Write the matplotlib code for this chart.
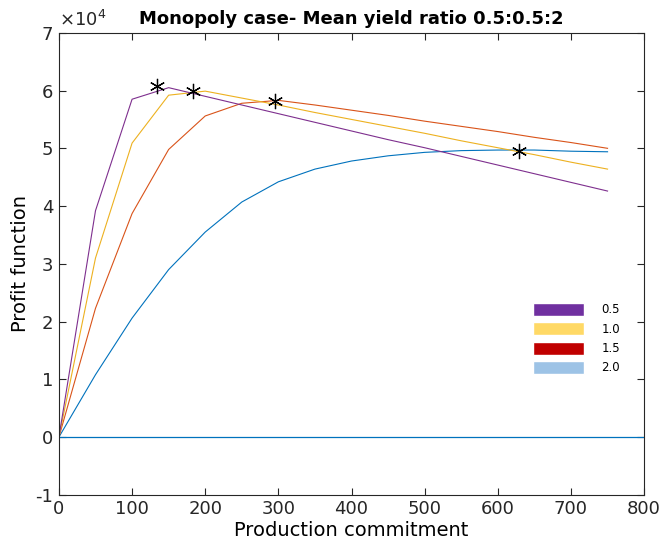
import matplotlib
matplotlib.use("Agg")
import matplotlib.pyplot as plt
from matplotlib.patches import Patch

# production commitment grid
x = [0, 50, 100, 150, 200, 250, 300, 350, 400, 450, 500, 550, 600, 650, 700, 750]

# profit values (x 1e4)
profit_05 = [0, 3.92, 5.85, 6.05, 5.90, 5.75, 5.60, 5.45, 5.30, 5.15, 5.01, 4.86, 4.71, 4.56, 4.41, 4.26]
profit_10 = [0, 3.10, 5.09, 5.92, 5.99, 5.87, 5.75, 5.62, 5.50, 5.38, 5.26, 5.13, 5.01, 4.89, 4.76, 4.64]
profit_15 = [0, 2.23, 3.87, 4.98, 5.56, 5.78, 5.83, 5.75, 5.66, 5.57, 5.47, 5.38, 5.29, 5.19, 5.10, 5.00]
profit_20 = [0, 1.08, 2.06, 2.90, 3.55, 4.07, 4.42, 4.64, 4.78, 4.87, 4.93, 4.96, 4.97, 4.97, 4.95, 4.94]

# optimum markers
star_x = [134, 183, 296, 629]
star_y = [6.08, 5.99, 5.82, 4.95]

legend_labels = ["0.5", "1.0", "1.5", "2.0"]
legend_colors = ["#7030A0", "#FFD966", "#C00000", "#9DC3E6"]

fig = plt.figure(figsize=(6.62, 5.56), dpi=100)
ax = fig.add_axes([0.089, 0.110, 0.884, 0.831])

scale = 1e4
ax.plot(x, [v * scale for v in profit_20], color="#0072BD", lw=0.8)
ax.plot(x, [v * scale for v in profit_15], color="#D95319", lw=0.8)
ax.plot(x, [v * scale for v in profit_10], color="#EDB120", lw=0.8)
ax.plot(x, [v * scale for v in profit_05], color="#7E2F8E", lw=0.8)
ax.axhline(0, color="#0072BD", lw=0.9)
# matlab style '*' marker (plus + cross)
ax.plot(star_x, [v * scale for v in star_y], ls="none", marker=(6, 2, 0), color="black",
        markersize=11, markeredgewidth=0.9)

ax.set_xlim(0, 800)
ax.set_ylim(-1e4, 7e4)
ax.set_xticks(range(0, 801, 100))
ax.set_yticks([i * scale for i in range(-1, 8)])
ax.set_yticklabels([str(i) for i in range(-1, 8)])
ax.tick_params(direction="in", top=True, right=True, labelsize=13, colors="#262626",
               length=5, width=0.8, pad=4)
for s in ax.spines.values():
    s.set_color("#262626")
    s.set_linewidth(0.8)

ax.text(0.0, 1.005, r"$\times10^{4}$", transform=ax.transAxes, fontsize=13,
        color="#262626", va="bottom", ha="left")
ax.set_title("Monopoly case- Mean yield ratio 0.5:0.5:2", fontsize=13,
             fontweight="bold", pad=6)
ax.set_xlabel("Production commitment", fontsize=14, labelpad=2)
ax.set_ylabel("Profit function", fontsize=14, labelpad=4)

handles = [Patch(facecolor=c, edgecolor="white") for c in legend_colors]
ax.legend(handles, legend_labels, loc="upper left", bbox_to_anchor=(0.81, 0.415),
          frameon=False, fontsize=8.5, handlelength=4.3, handleheight=1.3,
          labelspacing=0.5, handletextpad=1.5, borderpad=0, borderaxespad=0)

fig.savefig("out.png", dpi=100)
